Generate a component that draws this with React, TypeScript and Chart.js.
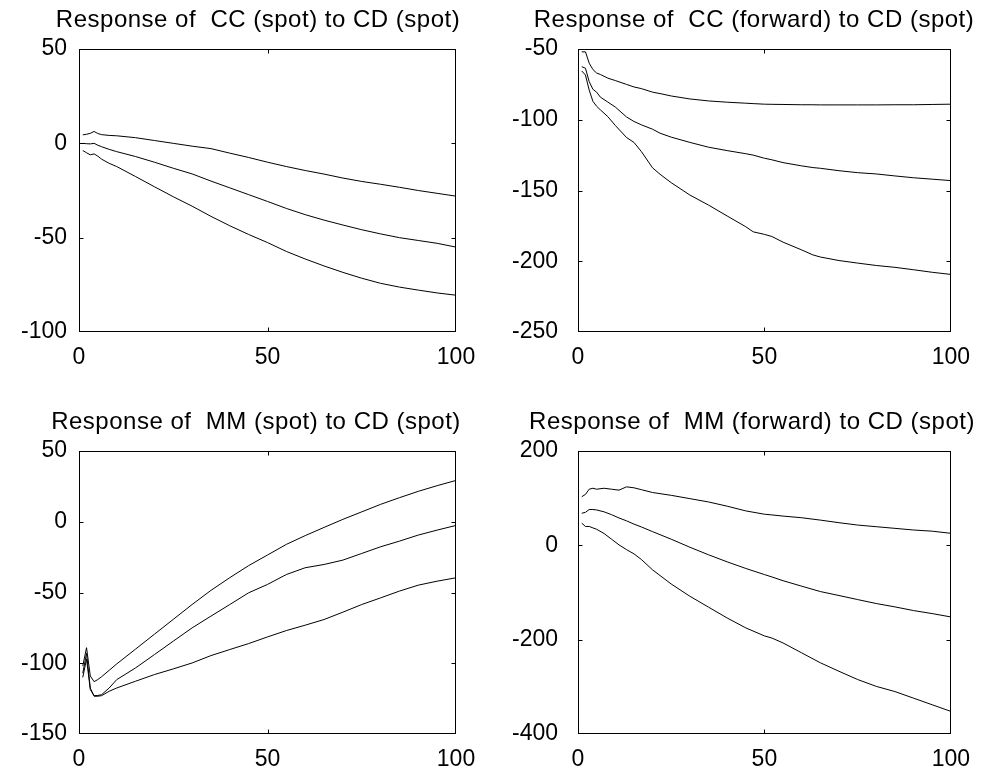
import React, { useEffect, useRef } from "react";
import { Chart, registerables } from "chart.js";

Chart.register(...registerables);

// ---------- data (horizons and impulse responses: upper band, estimate, lower band) ----------
const titles = [
  "Response of  CC (spot) to CD (spot)",
  "Response of  CC (forward) to CD (spot)",
  "Response of  MM (spot) to CD (spot)",
  "Response of  MM (forward) to CD (spot)",
];

const xTicks = [0, 50, 100];
const yTicksCCSpot = [-100, -50, 0, 50];
const yTicksCCFwd = [-250, -200, -150, -100, -50];
const yTicksMMSpot = [-150, -100, -50, 0, 50];
const yTicksMMFwd = [-400, -200, 0, 200];

const hCCSpot = [1, 2, 3, 4, 5, 6, 8, 10, 15, 20, 25, 30, 35, 40, 45, 50, 55, 60, 65, 70, 75, 80, 85, 90, 95, 100];
const ccSpotUpper = [4.5, 4.8, 5.3, 6.3, 5.2, 4.6, 4.2, 4.0, 3.0, 1.5, 0, -1.5, -2.8, -5.2, -7.5, -10, -12.3, -14.4, -16.3, -18.4, -20.2, -21.7, -23.3, -25, -26.5, -28];
const ccSpotMid = [0, -0.2, -0.3, 0, -1, -1.8, -3.2, -4.4, -7, -10, -13.2, -16.2, -20, -23.6, -27.2, -30.8, -34.5, -37.8, -40.7, -43.3, -45.8, -48, -50, -51.5, -53, -55];
const ccSpotLower = [-3.8, -5, -6.1, -5.6, -6.8, -8.4, -10.6, -12.3, -17.6, -23, -28.3, -33.3, -38.7, -43.7, -48.3, -52.6, -57.3, -61.3, -65, -68.4, -71.5, -74.2, -76.2, -77.8, -79.3, -80.5];

const hCCFwd = [1, 2, 3, 4, 5, 6, 8, 10, 13, 15, 17, 20, 22, 25, 30, 35, 40, 45, 47, 50, 52, 55, 60, 63, 65, 70, 75, 80, 85, 90, 95, 100];
const ccFwdUpper = [-52, -52, -60, -64.5, -67, -68, -70.6, -72.3, -75, -76.8, -78, -80.5, -81.5, -83.2, -85.3, -86.7, -87.6, -88.3, -88.6, -89, -89.1, -89.2, -89.4, -89.4, -89.5, -89.5, -89.5, -89.5, -89.4, -89.4, -89.2, -89];
const ccFwdMid = [-62.5, -63.6, -73, -78.5, -80.5, -84, -87.5, -91, -98, -101.2, -103.6, -106.7, -109.5, -112.3, -116, -119.4, -121.8, -124, -125, -127.2, -128.3, -130.3, -132.6, -133.8, -134.3, -136, -137.4, -138.3, -139.7, -141, -142, -143];
const ccFwdLower = [-65.5, -68.4, -79, -87, -90.5, -93, -97.8, -104, -112.5, -116, -122.5, -134, -138.5, -144.5, -153.2, -160.3, -168, -175.6, -179.2, -181, -182.5, -186.5, -192, -195.5, -197, -199.5, -201.3, -203, -204.3, -206, -207.8, -209.3];

const hMMSpot = [1, 2, 3, 4, 5, 6, 8, 10, 15, 20, 25, 30, 35, 40, 45, 50, 55, 60, 65, 70, 75, 80, 85, 90, 95, 100];
const mmSpotUpper = [-102, -89, -109, -113, -111.5, -109.5, -105, -100.5, -90, -79.5, -69, -58.5, -48.5, -39.5, -31, -23.5, -16, -9.8, -4, 1.7, 7, 12.3, 17, 21.5, 25.5, 29.2];
const mmSpotMid = [-110, -97, -118.6, -122.9, -122.8, -122.2, -117.5, -111.6, -103.3, -93.9, -84.4, -75, -66.7, -58.5, -50.2, -44.3, -37.3, -32.5, -30.2, -27.1, -22.4, -17.7, -13.7, -9.4, -5.9, -2.6];
const mmSpotLower = [-107, -93, -117.5, -123.3, -123.3, -122.9, -119.8, -117.5, -112.7, -108, -104, -99.8, -94.6, -90.3, -86.1, -81.4, -76.9, -73.1, -69.1, -63.9, -58.5, -53.8, -49, -44.8, -42, -39.6];

const hMMFwd = [1, 2, 3, 4, 5, 7, 9, 11, 13, 15, 17, 20, 25, 30, 35, 40, 45, 50, 52, 55, 60, 65, 70, 75, 80, 85, 90, 95, 100];
const mmFwdUpper = [103, 108, 119, 121, 119, 121, 119, 117, 124, 122, 118, 112, 106, 99, 92, 83, 73, 66, 64.5, 62, 58.5, 53.5, 48, 43, 39.5, 36, 32.5, 30, 25.5];
const mmFwdMid = [68, 70, 76, 76, 75, 71, 65, 58, 52, 45, 39, 29, 13, -4, -20, -35, -49, -62, -67, -75, -86.6, -98, -106.4, -115, -123.4, -130.5, -138.3, -144.7, -151.8];
const mmFwdLower = [47, 40, 40, 37, 34, 25, 13, 1, -9, -18, -30, -52, -82, -107.9, -131, -154, -175, -192, -196.5, -207, -228, -249, -267, -284.5, -299, -310, -324, -338, -352];

// ---------- layout (positions / styles only) ----------
const FONT = '"Liberation Sans", Arial, Helvetica, sans-serif';

const panels = [
  { left: 0, top: 0, w: 491, h: 386, pl: 79, pr: 456, pt: 49, pb: 332, cx: 258, pad: 12,
    title: titles[0], xs: hCCSpot, series: [ccSpotUpper, ccSpotMid, ccSpotLower], yt: yTicksCCSpot },
  { left: 491, top: 0, w: 491, h: 386, pl: 87, pr: 463, pt: 49, pb: 332, cx: 263, pad: 20,
    title: titles[1], xs: hCCFwd, series: [ccFwdUpper, ccFwdMid, ccFwdLower], yt: yTicksCCFwd },
  { left: 0, top: 386, w: 491, h: 387, pl: 79, pr: 456, pt: 65, pb: 348, cx: 256, pad: 12,
    title: titles[2], xs: hMMSpot, series: [mmSpotUpper, mmSpotMid, mmSpotLower], yt: yTicksMMSpot },
  { left: 491, top: 386, w: 491, h: 387, pl: 87, pr: 463, pt: 65, pb: 348, cx: 261, pad: 20,
    title: titles[3], xs: hMMFwd, series: [mmFwdUpper, mmFwdMid, mmFwdLower], yt: yTicksMMFwd },
];

const framePlugin = {
  id: "frame",
  afterDraw(chart: any, _args: any, opts: any) {
    const { ctx, chartArea: a, scales } = chart;
    const L = Math.round(a.left) + 0.5;
    const R = Math.round(a.right) - 0.5;
    const T = Math.round(a.top) + 0.5;
    const B = Math.round(a.bottom) - 0.5;
    const tl = 4;
    ctx.save();
    ctx.strokeStyle = "#000";
    ctx.lineWidth = 1;
    ctx.strokeRect(L, T, R - L, B - T);
    ctx.beginPath();
    scales.x.ticks.forEach((t: any) => {
      const p = Math.round(scales.x.getPixelForValue(t.value)) + 0.5;
      if (p <= L + 1 || p >= R - 1) return;
      ctx.moveTo(p, B);
      ctx.lineTo(p, B - tl);
      ctx.moveTo(p, T);
      ctx.lineTo(p, T + tl);
    });
    scales.y.ticks.forEach((t: any) => {
      const p = Math.round(scales.y.getPixelForValue(t.value)) + 0.5;
      if (p <= T + 1 || p >= B - 1) return;
      ctx.moveTo(L, p);
      ctx.lineTo(L + tl, p);
      ctx.moveTo(R, p);
      ctx.lineTo(R - tl, p);
    });
    ctx.stroke();
    ctx.fillStyle = "#000";
    ctx.font = `24px ${FONT}`;
    try { (ctx as any).letterSpacing = "0.5px"; } catch (e) {}
    ctx.textAlign = "center";
    ctx.textBaseline = "alphabetic";
    ctx.fillText(opts.text, opts.cx, a.top - 22);
    ctx.restore();
  },
};

function Panel({ cfg }: { cfg: any }) {
  const ref = useRef<HTMLCanvasElement>(null);
  useEffect(() => {
    const yMin = cfg.yt[0];
    const yMax = cfg.yt[cfg.yt.length - 1];
    const chart = new Chart(ref.current as HTMLCanvasElement, {
      type: "line",
      data: {
        datasets: cfg.series.map((ys: number[]) => ({
          data: cfg.xs.map((x: number, i: number) => ({ x, y: ys[i] })),
          borderColor: "#000",
          borderWidth: 1,
          pointRadius: 0,
          tension: 0,
          fill: false,
        })),
      },
      options: {
        animation: false,
        responsive: false,
        devicePixelRatio: 1,
        layout: { padding: { top: cfg.pt, right: cfg.w - cfg.pr, bottom: 0, left: 0 } },
        plugins: {
          legend: { display: false },
          tooltip: { enabled: false },
          title: { display: false },
          frame: { text: cfg.title, cx: cfg.cx },
        } as any,
        scales: {
          x: {
            type: "linear",
            min: xTicks[0],
            max: xTicks[xTicks.length - 1],
            afterBuildTicks: (s: any) => { s.ticks = xTicks.map((v) => ({ value: v })); },
            grid: { display: false, drawTicks: false },
            border: { display: false },
            ticks: { padding: 12, maxRotation: 0, autoSkip: false, color: "#000", font: { family: FONT, size: 23 } },
            afterFit: (s: any) => { s.height = cfg.h - cfg.pb; },
          },
          y: {
            type: "linear",
            min: yMin,
            max: yMax,
            afterBuildTicks: (s: any) => { s.ticks = cfg.yt.map((v: number) => ({ value: v })); },
            grid: { display: false, drawTicks: false },
            border: { display: false },
            ticks: { padding: cfg.pad, autoSkip: false, color: "#000", font: { family: FONT, size: 23 } },
            afterFit: (s: any) => { s.width = cfg.pl; },
          },
        },
      },
      plugins: [framePlugin as any],
    });
    return () => chart.destroy();
  }, []);
  return (
    <div style={{ position: "absolute", left: cfg.left, top: cfg.top, width: cfg.w, height: cfg.h }}>
      <canvas ref={ref} width={cfg.w} height={cfg.h} style={{ width: cfg.w, height: cfg.h, display: "block" }} />
    </div>
  );
}

export default function App() {
  return (
    <div style={{ position: "absolute", left: 0, top: 0, width: 982, height: 773, background: "#fff", overflow: "hidden" }}>
      {panels.map((p, i) => (
        <Panel key={i} cfg={p} />
      ))}
    </div>
  );
}
